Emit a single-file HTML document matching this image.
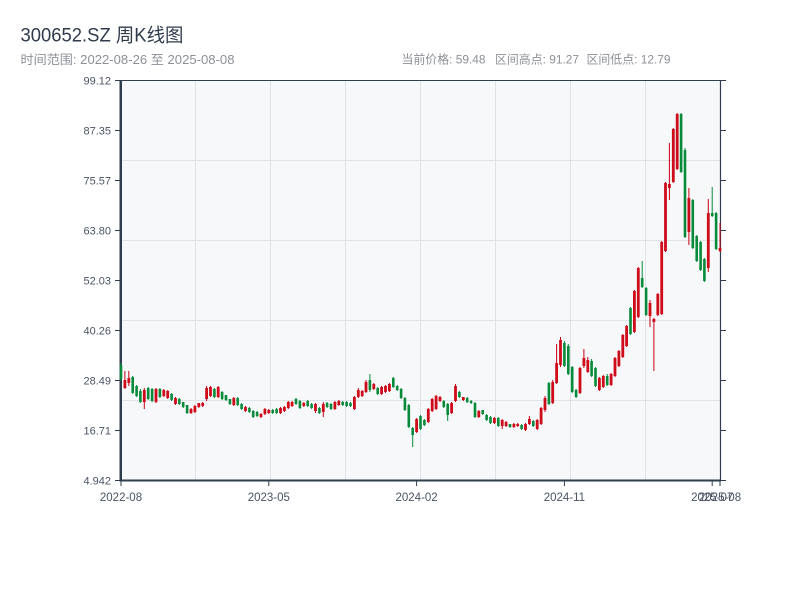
<!DOCTYPE html>
<html><head><meta charset="utf-8"><style>
html,body{margin:0;padding:0;background:#fff;}
svg{display:block;}
text{font-family:"Liberation Sans","Noto Sans CJK SC",sans-serif;}
</style></head><body>
<svg width="800" height="600" viewBox="0 0 800 600" xmlns="http://www.w3.org/2000/svg">
<rect width="800" height="600" fill="#fff"/>
<text x="20.5" y="41.5" font-size="19" fill="#2f3b4c" textLength="163" lengthAdjust="spacingAndGlyphs">300652.SZ 周K线图</text>
<text x="20.5" y="64" font-size="12.5" fill="#8c9096" textLength="214" lengthAdjust="spacingAndGlyphs">时间范围: 2022-08-26 至 2025-08-08</text>
<text x="401.5" y="63.5" font-size="12" fill="#8c9096" textLength="84" lengthAdjust="spacingAndGlyphs">当前价格: 59.48</text>
<text x="495" y="63.5" font-size="12" fill="#8c9096" textLength="84" lengthAdjust="spacingAndGlyphs">区间高点: 91.27</text>
<text x="586.5" y="63.5" font-size="12" fill="#8c9096" textLength="84" lengthAdjust="spacingAndGlyphs">区间低点: 12.79</text>
<rect x="121" y="80" width="599.5" height="400" fill="#f6f8fa"/>
<g stroke="#dfe3e8" stroke-width="1">
<path d="M195.5 80V480M270.5 80V480M345.5 80V480M420.5 80V480M495.5 80V480M570.5 80V480M645.5 80V480"/>
<path d="M121 160.5H720M121 240.5H720M121 320.5H720M121 400.5H720"/>
</g>
<g stroke="#2f3d4f" fill="none">
<path stroke-width="1" d="M120 80.5H726"/>
<path stroke-width="1.2" d="M720.5 80V481"/>
<path stroke-width="2.5" d="M120.75 80V481.5"/>
<path stroke-width="2" d="M119.5 480.5H721"/>
<path stroke-width="1" d="M115 80.5H120M115 130.5H120M115 180.5H120M115 230.5H120M115 280.5H120M115 330.5H120M115 380.5H120M115 430.5H120M115 480.5H120"/>
<path stroke-width="1" d="M721 130.5H726M721 180.5H726M721 230.5H726M721 280.5H726M721 330.5H726M721 380.5H726M721 430.5H726M721 480.5H726"/>
<path stroke-width="1" d="M121 481V486M268.8 481V486M416.6 481V486M564.4 481V486M712.2 481V486M720 481V486"/>
</g>
<g font-size="11" fill="#4a5364" text-anchor="end">
<text x="111" y="84.5">99.12</text>
<text x="111" y="134.5">87.35</text>
<text x="111" y="184.5">75.57</text>
<text x="111" y="234.5">63.80</text>
<text x="111" y="284.5">52.03</text>
<text x="111" y="334.5">40.26</text>
<text x="111" y="384.5">28.49</text>
<text x="111" y="434.5">16.71</text>
<text x="111" y="484.5">4.942</text>
</g>
<g font-size="11.5" fill="#4a5364" text-anchor="middle">
<text x="121" y="501">2022-08</text>
<text x="268.8" y="501">2023-05</text>
<text x="416.6" y="501">2024-02</text>
<text x="564.4" y="501">2024-11</text>
<text x="712.2" y="501">2025-07</text>
<text x="720" y="501">2025-08</text>
</g>
<!-- green wicks -->
<path fill="none" stroke="#078a3a" stroke-width="1" d="M121 363V381M132.7 376V394M136.6 385V397M140.4 389V403M148.2 387V400M152.1 388V402M159.9 388V398M171.6 393V401M179.3 398V405M183.2 402V408M187.1 405V414M214.4 388V398M222.1 391V400M226 395V401M229.9 399V405M237.7 397V406M241.6 403V410M249.4 407V413M253.2 410V418M257.1 411V417M272.7 409V414M276.6 408V414M296 398V405M299.9 400V409M307.7 400V407M311.6 403V409M319.4 407V414M327.1 402V408M331 403V410M342.7 401V406M346.6 401V407M350.5 402V407M369.9 374V392M377.7 387V395M393.3 377V388M397.2 385V391M401.1 388V399M404.9 397V411M408.8 404V428M412.7 427V447M420.5 415V430M424.4 419V426M443.8 400V408M447.7 403V421M459.4 391V398M467.2 397V403M471.1 400V404M475 402V418M482.7 410V415M486.6 414V421M490.5 416V424M498.3 417V427M510 424V428M521.6 424V430M533.3 420V427M548.9 382V405M564.4 341V367M568.3 344V375M572.2 366V393M576.1 389V398M591.6 359V377M595.5 367V387M607.2 374V386M630.5 307V335M642.2 261V288M646.1 287V316M681.1 113V173M685 148V238M692.8 199V249M696.7 235V262M700.6 241V271M704.4 258V282M712.2 187V217M716.1 212V250"/>
<!-- green bodies -->
<path fill="none" stroke="#078a3a" stroke-width="2.6" d="M121 365V379M132.7 377V393M136.6 386V396M140.4 391V402M148.2 388V399M152.1 389V401M159.9 389V397M171.6 394V400M179.3 399V404M183.2 402V407M187.1 405V413M214.4 389V397M222.1 392V399M226 395V400M229.9 399V404M237.7 398V405M241.6 404V409M249.4 408V412M253.2 411V417M257.1 412V416M272.7 410V413M276.6 409V413M296 399V404M299.9 401V408M307.7 401V406M311.6 404V408M319.4 408V413M327.1 403V407M331 404V409M342.7 402V405M346.6 402V406M350.5 403V406M369.9 380V390M377.7 388V394M393.3 378V387M397.2 386V390M401.1 389V398M404.9 398V410M408.8 405V427M412.7 428V435M420.5 416V429M424.4 420V425M443.8 401V407M447.7 404V415M459.4 392V397M467.2 398V402M471.1 401V403M475 403V417M482.7 410V414M486.6 415V420M490.5 417V423M498.3 418V426M510 424V427M521.6 425V429M533.3 421V426M548.9 383V404M564.4 343V366M568.3 346V374M572.2 367V392M576.1 390V397M591.6 361V376M595.5 368V386M607.2 376V385M630.5 308V334M642.2 278V287M646.1 288V315M681.1 114V172M685 150V237M692.8 200V248M696.7 236V261M700.6 242V270M704.4 259V281M712.2 213V216M716.1 213V249"/>
<!-- red wicks -->
<path fill="none" stroke="#cc0011" stroke-width="1" d="M124.9 371V389M128.8 371V386M144.3 388V409M156 388V403M163.8 389V397M167.7 390V399M175.5 397V405M191 408V414M194.9 405V413M198.8 403V408M202.7 402V407M206.6 386V401M210.5 386V397M218.2 386V398M233.8 397V406M245.5 406V412M261 413V418M264.9 408V415M268.8 409V414M280.5 407V414M284.4 406V412M288.3 401V409M292.1 401V407M303.8 402V407M315.5 403V413M323.3 402V417M334.9 401V410M338.8 400V406M354.4 396V410M358.3 388V398M362.2 390V397M366 380V393M373.8 383V390M381.6 386V395M385.5 385V393M389.4 383V392M416.6 418V433M428.3 408V423M432.2 398V412M436.1 395V410M440 396V402M451.6 402V414M455.5 384V402M463.3 397V401M478.8 410V418M494.4 417V424M502.2 419V429M506.1 421V427M513.9 423V428M517.7 423V427M525.5 423V431M529.4 416V425M537.2 419V430M541.1 407V425M545 396V412M552.7 380V404M556.6 344V384M560.5 337V367M580 367V394M583.9 349V368M587.8 357V373M599.4 377V391M603.3 375V388M611.1 373V386M615 357V377M618.9 350V367M622.8 334V358M626.6 325V347M634.4 290V333M638.3 267V318M650 300V327M653.9 318V371M657.8 293V316M661.7 241V315M665.5 182V252M669.4 143V200M673.3 128V183M677.2 113V170M688.9 188V245M708.3 199V272M720 223V252"/>
<!-- red bodies -->
<path id="rb" fill="none" stroke="#cf0c1a" stroke-width="2.8" d="M124.9 380V388M128.8 378V383M144.3 390V402M156 389V402M163.8 390V396M167.7 391V398M175.5 398V404M191 409V413M194.9 406V412M198.8 403V407M202.7 403V406M206.6 388V399M210.5 387V396M218.2 387V397M233.8 398V405M245.5 407V411M261 414V417M264.9 409V414M268.8 410V413M280.5 408V413M284.4 407V411M288.3 402V408M292.1 402V406M303.8 403V406M315.5 404V411M323.3 404V412M334.9 402V409M338.8 401V405M354.4 397V409M358.3 390V397M362.2 391V396M366 382V392M373.8 384V389M381.6 387V394M385.5 386V392M389.4 384V391M416.6 419V432M428.3 409V422M432.2 399V411M436.1 396V409M440 397V401M451.6 403V413M455.5 386V401M463.3 397V400M478.8 411V417M494.4 418V423M502.2 420V426M506.1 422V426M513.9 424V427M517.7 424V426M525.5 424V430M529.4 419V424M537.2 420V429M541.1 408V424M545 398V410M552.7 382V403M556.6 363V383M560.5 340V365M580 368V393M583.9 358V366M587.8 360V372M599.4 378V390M603.3 376V387M611.1 374V385M615 358V376M618.9 351V366M622.8 335V357M626.6 326V346M634.4 291V332M638.3 268V317M650 303V316M653.9 319V322M657.8 294V315M661.7 242V314M665.5 183V251M669.4 184V188M673.3 129V182M677.2 114V169M688.9 198V232M708.3 213V268M720 248V251"/>
</svg>
</body></html>
